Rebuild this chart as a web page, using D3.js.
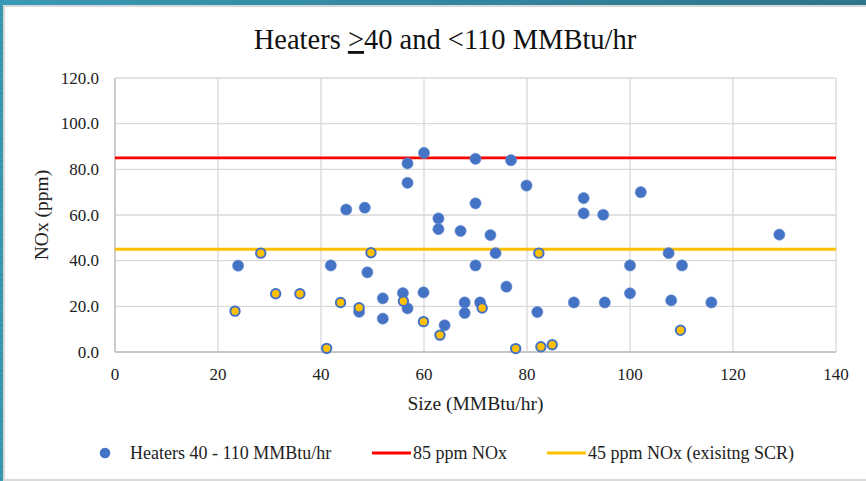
<!DOCTYPE html>
<meta charset="utf-8">
<script src="https://d3js.org/d3.v7.min.js"></script>
<style>
  body { margin: 0; background: #fff; }
  svg { display: block; font-family: "Liberation Serif", "Times New Roman", serif; }
</style>
<svg id="chart" width="866" height="481"></svg>
<script>
  // heaters without SCR (blue markers)
  var heaterX = [23.9, 41.9, 44.9, 48.5, 49.0, 47.4, 52.0, 52.0, 55.9, 56.8, 56.8, 56.8,
    60.0, 59.9, 62.8, 62.8, 64.0, 67.1, 67.9, 67.9, 70.0, 70.0, 70.0, 70.9, 72.9, 73.9,
    76.9, 76.0, 79.9, 82.0, 89.1, 91.0, 91.0, 94.8, 95.1, 100.0, 100.0, 102.1, 107.5,
    110.1, 108.0, 115.8, 129.0];
  var heaterY = [37.8, 37.9, 62.4, 63.2, 34.9, 17.6, 23.5, 14.6, 25.8, 19.1, 82.6, 74.1,
    87.2, 26.1, 58.5, 53.8, 11.7, 53.0, 21.7, 17.1, 84.6, 65.1, 37.9, 21.7, 51.2, 43.3,
    84.0, 28.6, 72.9, 17.5, 21.7, 67.4, 60.7, 60.1, 21.7, 37.9, 25.7, 70.0, 43.3,
    37.9, 22.6, 21.7, 51.4];

  // heaters with existing SCR (yellow markers)
  var scrX = [23.3, 28.3, 31.2, 35.9, 41.1, 43.8, 47.4, 49.7, 56.0, 59.9, 63.1, 71.3,
    77.8, 82.3, 82.7, 84.9, 109.8];
  var scrY = [17.9, 43.3, 25.5, 25.5, 1.6, 21.7, 19.4, 43.5, 22.2, 13.3, 7.4, 19.3,
    1.5, 43.3, 2.3, 3.2, 9.5];

  // reference levels
  var limits = [85, 45];
  var limitColors = ["#ff0000", "#ffc000"];

  var xTicks = [0, 20, 40, 60, 80, 100, 120, 140];
  var yTicks = [0, 20, 40, 60, 80, 100, 120];

  var legendLabels = ["Heaters 40 - 110 MMBtu/hr", "85 ppm NOx", "45 ppm NOx (exisitng SCR)"];

  var svg = d3.select("svg"),
    width = +svg.attr("width"),
    height = +svg.attr("height");

  // slide-style frame
  var defs = svg.append("defs");
  var pat = defs.append("pattern")
    .attr("id", "stripes")
    .attr("width", 4).attr("height", 4)
    .attr("patternUnits", "userSpaceOnUse")
    .attr("patternTransform", "rotate(45)");
  pat.append("rect").attr("width", 4).attr("height", 4).attr("fill", "#3590a8");
  pat.append("rect").attr("width", 2).attr("height", 4).attr("fill", "#3c9cb6");
  var grad = defs.append("linearGradient").attr("id", "topband");
  grad.append("stop").attr("offset", "0%").attr("stop-color", "#3a9ab5");
  grad.append("stop").attr("offset", "100%").attr("stop-color", "#2c6f86");

  svg.append("rect").attr("width", width).attr("height", height).attr("fill", "url(#stripes)");
  svg.append("rect").attr("width", width).attr("height", 6).attr("fill", "url(#topband)").attr("opacity", 0.85);
  svg.append("rect").attr("x", 3).attr("y", 5).attr("width", width - 3).attr("height", height - 5).attr("fill", "#d9d9d9");
  svg.append("rect").attr("x", 5).attr("y", 7).attr("width", width - 5).attr("height", 472).attr("fill", "#fff");

  var x = d3.scaleLinear().domain([0, 140]).range([115, 836]);
  var y = d3.scaleLinear().domain([0, 120]).range([352, 78]);

  // grid
  svg.append("g")
    .selectAll("line")
    .data(yTicks)
    .enter()
    .append("line")
      .attr("x1", x(0)).attr("x2", x(140))
      .attr("y1", d => y(d)).attr("y2", d => y(d))
      .attr("stroke", "#d9d9d9").attr("stroke-width", 1.3);
  svg.append("g")
    .selectAll("line")
    .data(xTicks)
    .enter()
    .append("line")
      .attr("x1", d => x(d)).attr("x2", d => x(d))
      .attr("y1", y(0)).attr("y2", y(120))
      .attr("stroke", "#d9d9d9").attr("stroke-width", 1.3);
  svg.append("line")
    .attr("x1", x(0)).attr("x2", x(0)).attr("y1", y(0)).attr("y2", y(120))
    .attr("stroke", "#bfbfbf").attr("stroke-width", 1.3);
  svg.append("line")
    .attr("x1", x(0)).attr("x2", x(140)).attr("y1", y(0)).attr("y2", y(0))
    .attr("stroke", "#bfbfbf").attr("stroke-width", 1.3);

  // tick labels
  svg.append("g")
    .selectAll("text")
    .data(yTicks)
    .enter()
    .append("text")
      .attr("x", 99)
      .attr("y", d => y(d) + 5.5)
      .attr("text-anchor", "end")
      .attr("font-size", 17)
      .attr("fill", "#222")
      .text(d => d3.format(".1f")(d));
  svg.append("g")
    .selectAll("text")
    .data(xTicks)
    .enter()
    .append("text")
      .attr("x", d => x(d))
      .attr("y", 380)
      .attr("text-anchor", "middle")
      .attr("font-size", 17)
      .attr("fill", "#222")
      .text(d => d);

  // axis titles
  svg.append("text")
    .attr("x", x(70)).attr("y", 410)
    .attr("text-anchor", "middle")
    .attr("font-size", 19.5)
    .attr("fill", "#222")
    .text("Size (MMBtu/hr)");
  svg.append("text")
    .attr("transform", "translate(48," + y(60) + ") rotate(-90)")
    .attr("text-anchor", "middle")
    .attr("font-size", 19.5)
    .attr("fill", "#222")
    .text("NOx (ppm)");

  // title
  var title = svg.append("text")
    .attr("x", 445).attr("y", 49)
    .attr("text-anchor", "middle")
    .attr("font-size", 28.5)
    .attr("fill", "#111");
  title.append("tspan").text("Heaters ");
  title.append("tspan").attr("text-decoration", "underline").text(">");
  title.append("tspan").text("40 and <110 MMBtu/hr");

  // limit lines
  svg.append("g")
    .selectAll("line")
    .data(limits)
    .enter()
    .append("line")
      .attr("x1", x(0)).attr("x2", x(140))
      .attr("y1", d => y(d)).attr("y2", d => y(d))
      .attr("stroke", (d, i) => limitColors[i])
      .attr("stroke-width", 2.8);

  // markers
  svg.append("g")
    .selectAll("circle")
    .data(heaterX.map((v, i) => [v, heaterY[i]]))
    .enter()
    .append("circle")
      .attr("cx", d => x(d[0]))
      .attr("cy", d => y(d[1]))
      .attr("r", 5.6)
      .attr("fill", "#4472c4")
      .attr("stroke", "#6a8fd0")
      .attr("stroke-width", 0.6);
  svg.append("g")
    .selectAll("circle")
    .data(scrX.map((v, i) => [v, scrY[i]]))
    .enter()
    .append("circle")
      .attr("cx", d => x(d[0]))
      .attr("cy", d => y(d[1]))
      .attr("r", 4.7)
      .attr("fill", "#ffc000")
      .attr("stroke", "#4472c4")
      .attr("stroke-width", 2);

  // legend
  var leg = svg.append("g").attr("font-size", 18).attr("fill", "#222");
  leg.append("circle").attr("cx", 105).attr("cy", 453).attr("r", 5.3).attr("fill", "#4472c4");
  leg.append("text").attr("x", 130).attr("y", 459).text(legendLabels[0]);
  leg.append("line").attr("x1", 372).attr("x2", 411).attr("y1", 453).attr("y2", 453)
    .attr("stroke", limitColors[0]).attr("stroke-width", 2.8);
  leg.append("text").attr("x", 413).attr("y", 459).text(legendLabels[1]);
  leg.append("line").attr("x1", 547).attr("x2", 586).attr("y1", 453).attr("y2", 453)
    .attr("stroke", limitColors[1]).attr("stroke-width", 2.8);
  leg.append("text").attr("x", 588).attr("y", 459).text(legendLabels[2]);
</script>
